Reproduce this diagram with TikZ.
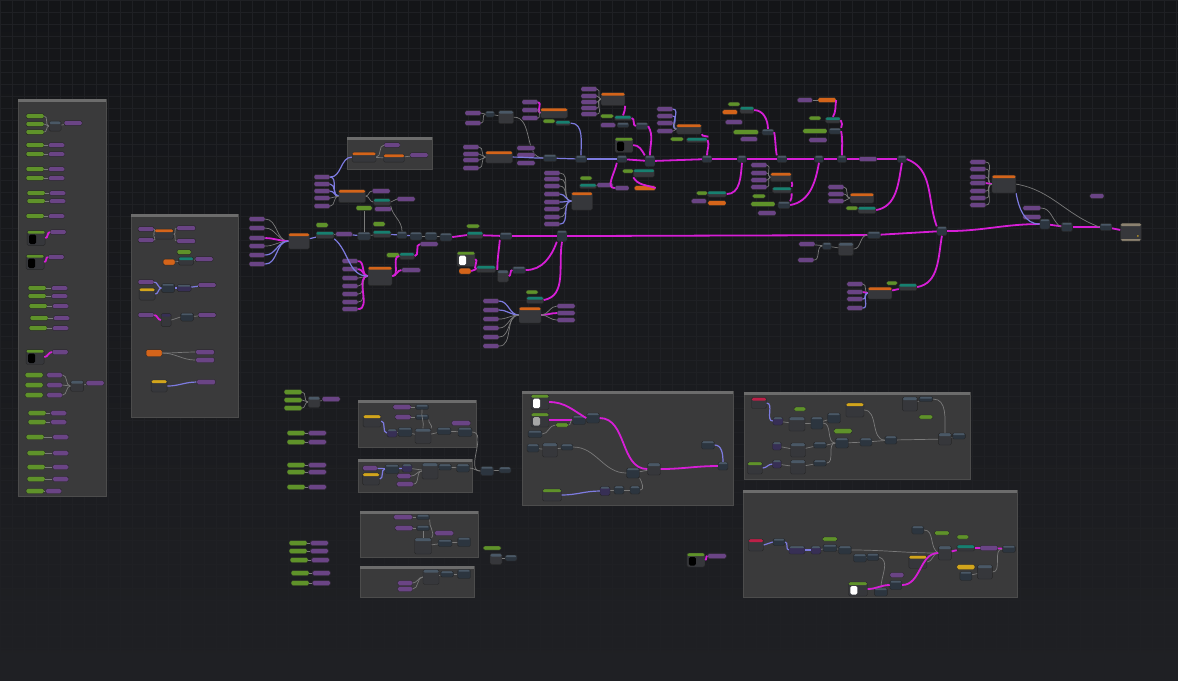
\documentclass[tikz,border=0pt]{standalone}
\usetikzlibrary{positioning}
\definecolor{GraphTop}{HTML}{141518}
\definecolor{GraphBg}{HTML}{1F2024}
\definecolor{GridLine}{HTML}{1F2024}
\definecolor{FrameGray}{HTML}{3A3A3B}
\definecolor{FrameBar}{HTML}{6C6C6C}
\definecolor{ParmPurple}{HTML}{6A4485}
\definecolor{ParmGreen}{HTML}{5F922A}
\definecolor{HdrOrange}{HTML}{D4641A}
\definecolor{HdrTeal}{HTML}{178070}
\definecolor{HdrYellow}{HTML}{D2A51C}
\definecolor{HdrRed}{HTML}{BC2048}
\definecolor{HdrSlate}{HTML}{4A5866}
\definecolor{OpSlate}{HTML}{2C353F}
\definecolor{OpViolet}{HTML}{372F55}
\definecolor{BodyGray}{HTML}{36373B}
\definecolor{OutHead}{HTML}{8C8270}
\definecolor{WireMag}{HTML}{D61ED6}
\definecolor{WireLav}{HTML}{7D7BE0}
\definecolor{WireGray}{HTML}{7A7A7A}
\tikzset{
  sz/.style 2 args={minimum width=#1pt,minimum height=#2pt},
  pp/.style={draw=black!85,fill=ParmPurple,rounded corners=1.5pt,inner sep=0pt,sz={16}{5}},
  gp/.style={pp,fill=ParmGreen,sz={18}{5}},
  op/.style={draw=black!85,fill=OpSlate,rounded corners=1.5pt,inner sep=0pt,sz={12}{8},path picture={\fill[HdrSlate] (path picture bounding box.north west) rectangle ([yshift=-2pt]path picture bounding box.north east);}},
  opv/.style={op,fill=OpViolet,sz={10}{8}},
  blk/.style={draw=black!85,fill=BodyGray,rounded corners=1.5pt,inner sep=0pt,sz={24}{13},path picture={\fill[#1] (path picture bounding box.north west) rectangle ([yshift=-3pt]path picture bounding box.north east);}},
  blk/.default=HdrOrange,
  dk/.style={blk=HdrSlate,sz={15}{14}},
  thumb/.style={draw=black!85,fill=BodyGray,rounded corners=1.5pt,inner sep=0pt,sz={18}{15},path picture={\fill[ParmGreen] (path picture bounding box.north west) rectangle ([yshift=-3pt]path picture bounding box.north east);\fill[#1] ([shift={(2pt,-4pt)}]path picture bounding box.north west) rectangle ([shift={(9pt,1.5pt)}]path picture bounding box.south west);}},
  thumb/.default=black,
  outn/.style={draw=black!85,fill=BodyGray,rounded corners=1.5pt,inner sep=0pt,sz={21}{18},path picture={\fill[OutHead] (path picture bounding box.north west) rectangle ([yshift=-3pt]path picture bounding box.north east);\fill[OutHead] (path picture bounding box.south west) rectangle ([yshift=2pt]path picture bounding box.south east);\fill[HdrYellow] ([shift={(-5pt,4pt)}]path picture bounding box.south east) -- ([shift={(-2pt,4pt)}]path picture bounding box.south east) -- ([shift={(-3.5pt,7pt)}]path picture bounding box.south east) -- cycle;}},
  wire/.style={WireGray,line width=0.7pt},
  mag/.style={WireMag,line width=1.8pt},
  lav/.style={WireLav,line width=1.2pt},
  cv/.style={out=0,in=180},
  grp/.style={fill=FrameGray,draw=black!70,line width=0.6pt}
}
\begin{document}
\begin{tikzpicture}[x=1pt,y=-1pt]
\shade[top color=GraphTop,bottom color=GraphBg] (0,0) rectangle (1178,681);
\draw[GridLine,line width=0.25pt,step=12pt] (0,681) grid (1178,0);
\useasboundingbox (0,0) rectangle (1178,681);
% group frames
\foreach \xa/\ya/\xb/\yb in {18/99/106/496,131/214/238/417,347/137/432/169,358/400/476/447,358/459/472/492,360/511/478/557,360/566/474/597,522/391/733/505,744/392/970/479,743/490/1017/597}{
  \filldraw[grp] (\xa,\ya) rectangle (\xb,\yb);
  \fill[FrameBar] (\xa,\ya) rectangle (\xb,\ya+3);
}

% left frame
\foreach \y [count=\i] in {116,124,132}{\node[gp] (lt\i) at (35,\y) {};}
\node[dk,sz={12}{10}] (ltmix) at (55,126) {};
\node[pp,sz={18}{5}] (ltout) at (73,123) {};
\foreach \i in {1,2,3}{\draw[wire] (lt\i.east) to[cv] (ltmix.west);}
\draw[wire] (ltmix) -- (ltout);
\foreach \y/\gx/\gap [count=\i] in {145/35/4pt,154/35/4pt,169/35/4pt,178/35/4pt,193/36/4pt,201/36/4pt,216/35/4pt,288/37/5pt,296/37/5pt,306/38/5pt,318/39/5pt,328/38/5pt,413/37/4pt,422/37/4pt,437/35/8pt,453/36/7pt,467/36/7pt,479/36/7pt,491/35/1pt}{
  \node[gp] (lg\i) at (\gx,\y) {};
  \node[pp,right=\gap of lg\i] (lp\i) {};
  \draw[wire] (lg\i) -- (lp\i);
}
\foreach \x/\y/\px/\py [count=\i] in {36/238/58/232,35/262/56/257,35/357/60/352}{
  \node[thumb] (lth\i) at (\x,\y) {};
  \node[pp] (lto\i) at (\px,\py) {};
  \draw[mag] (lth\i.east) to[cv] (lto\i.west);
}
\node[dk,sz={13}{11}] (lbmix) at (77,386) {};
\node[pp,sz={18}{5}] (lbout) at (95,383) {};
\foreach \y [count=\i] in {375,385,395}{
  \node[gp] (lb\i) at (34,\y) {};
  \node[pp,right=3pt of lb\i] (lbp\i) {};
  \draw[wire] (lbp\i.east) to[cv] (lbmix.west);
}
\draw[wire] (lbmix) -- (lbout);

% frame M
\node[pp] (m1a) at (146,229) {};
\node[pp] (m1b) at (146,240) {};
\node[blk,sz={19}{10}] (m1) at (164,234) {};
\node[pp,sz={19}{5}] (m1c) at (186,228) {};
\node[pp,sz={19}{5}] (m1d) at (186,241) {};
\draw[wire] (m1a.east) to[cv] (m1.west); \draw[wire] (m1b.east) to[cv] (m1.west);
\draw[wire] (m1.east) to[cv] (m1c.west); \draw[wire] (m1.east) to[cv] (m1d.west);
\node[gp,sz={14}{5}] (m2g) at (184,252) {};
\node[pp,fill=HdrOrange,sz={12}{6}] (m2o) at (169,262) {};
\node[blk=HdrTeal,sz={15}{8}] (m2) at (186,261) {};
\node[pp,sz={18}{5}] (m2p) at (204,259) {};
\draw[wire] (m2o) -- (m2); \draw[wire] (m2) -- (m2p);
\node[pp] (m3a) at (146,282) {};
\node[blk=HdrYellow,sz={16}{12}] (m3y) at (147,294) {};
\node[op,sz={13}{9}] (m3b) at (168,288) {};
\node[opv,sz={14}{7}] (m3c) at (184,288) {};
\node[pp,sz={18}{5}] (m3d) at (207,285) {};
\draw[lav] (m3a.east) to[cv] (m3b.west); \draw[lav] (m3y.east) to[cv] (m3b.west);
\draw[lav] (m3b) -- (m3c); \draw[lav] (m3c) -- (m3d);
\node[pp] (m4a) at (146,315) {};
\node[blk=OpViolet,sz={10}{13}] (m4b) at (166,320) {};
\node[op,sz={13}{8}] (m4c) at (187,317) {};
\node[pp,sz={18}{5}] (m4d) at (207,315) {};
\draw[mag] (m4a.east) to[cv] (m4b.west); \draw[wire] (m4b.east) to[cv] (m4c.west); \draw[wire] (m4c) -- (m4d);
\node[pp,fill=HdrOrange,sz={16}{7}] (m5o) at (154,353) {};
\node[pp,sz={19}{5}] (m5a) at (205,352) {};
\node[pp,sz={19}{5}] (m5b) at (205,360) {};
\draw[wire] (m5o.east) to[cv] (m5a.west); \draw[wire] (m5o.east) to[cv] (m5b.west);
\node[blk=HdrYellow,sz={16}{12}] (m6y) at (159,386) {};
\node[pp,sz={19}{5}] (m6a) at (206,382) {};
\draw[lav] (m6y.east) to[cv] (m6a.west);

% frame T and cluster under it
\node[blk,sz={24}{10}] (t1) at (364,157) {};
\node[pp] (t1a) at (392,145) {};
\node[blk,sz={21}{8}] (t2) at (394,158) {};
\node[pp,sz={18}{5}] (t2a) at (419,155) {};
\draw[wire] (t1.east) to[cv] (t1a.west); \draw[wire] (t1) -- (t2); \draw[wire] (t2) -- (t2a);
\foreach \y [count=\i] in {177,184,191,198,206}{\node[pp] (tc\i) at (322,\y) {};}
\node[blk,sz={27}{13}] (tcmix) at (352,196) {};
\foreach \i/\s in {1/lav,2/lav,3/lav,4/wire,5/wire}{\draw[\s] (tc\i.east) to[cv] (tcmix.west);}
\draw[lav] (tc1.east) to[cv] (t1.west);
\node[pp,sz={18}{5}] (tca) at (381,191) {};
\node[blk=HdrTeal,sz={17}{7}] (tcb) at (382,202) {};
\node[gp,sz={16}{5}] (tcg) at (364,208) {};
\node[pp,sz={17}{5}] (tcc) at (383,209) {};
\node[pp,sz={18}{5}] (tcd) at (406,199) {};
\draw[wire] (tcmix.east) to[cv] (tca.west); \draw[wire] (tcmix.east) to[cv] (tcb.west);
\draw[wire] (tcb.east) to[cv] (tcd.west);

% entry cluster
\foreach \y [count=\i] in {219,228,238,246,255,264}{\node[pp] (ein\i) at (257,\y) {};}
\node[blk,sz={21}{16}] (emix) at (299,241) {};
\foreach \i/\s in {1/wire,2/wire,3/mag,4/wire,5/lav,6/lav}{\draw[\s] (ein\i.east) to[cv] (emix.west);}
\node[gp,sz={12}{5}] (eg1) at (322,225) {};
\node[blk=HdrTeal,sz={18}{7}] (et1) at (325,235) {};
\node[pp,sz={17}{5}] (ep1) at (344,234) {};
\node[op,sz={13}{8}] (eo1) at (364,236) {};
\node[gp,sz={12}{5}] (eg2) at (379,224) {};
\node[blk=HdrTeal,sz={18}{7}] (et2) at (382,234) {};
\node[op,sz={10}{7}] (eo2) at (402,235) {};
\node[op] (eo3) at (416,236) {};
\node[op] (eo4) at (431,236) {};
\node[op] (eo5) at (446,237) {};
\draw[lav] (emix) -- (et1); \draw[wire] (et1) -- (ep1); \draw[lav] (ep1) -- (eo1);
\draw[wire] (eo1) -- (et2); \draw[lav] (et2) -- (eo2); \draw[lav] (eo2) -- (eo3);
\draw[wire] (eo3) -- (eo4); \draw[wire] (eo4) -- (eo5);
\draw[wire] (tcg.south) to[out=-90,in=90] (eo1.north);
\draw[wire] (tcb.south east) to[out=-80,in=90] (eo2.north);

% lower left cluster
\foreach \y [count=\i] in {261,269,278,286,294,302,309}{\node[pp] (lc\i) at (350,\y) {};}
\node[blk,sz={24}{19}] (lcmix) at (380,276) {};
\foreach \i/\s in {1/mag,2/mag,3/wire,4/wire,5/wire,6/wire,7/mag}{\draw[\s] (lc\i.east) to[cv] (lcmix.west);}
\node[gp,sz={13}{5}] (lcg) at (393,255) {};
\node[blk=HdrTeal,sz={15}{7}] (lct) at (407,256) {};
\node[pp,sz={19}{5}] (lca) at (411,270) {};
\node[pp,sz={18}{5}] (lcb) at (429,244) {};
\draw[mag] (lcmix.east) to[cv] (lca.west);
\draw[mag] (lcmix.east) to[cv] (lct.west);
\draw[mag] (lct.east) to[cv] (lcb.west);
\draw[lav] (et1.south east) to[out=-40,in=180] (lcmix.west);

% main spine
\node[gp,sz={13}{4}] (sg) at (473,226) {};
\node[blk=HdrTeal,sz={16}{7}] (st) at (475,235) {};
\node[op,sz={12}{7}] (so1) at (506,236) {};
\node[op,sz={10}{11}] (sj) at (562,236) {};
\node[op,sz={13}{7}] (sp1) at (874,235) {};
\node[op,sz={10}{9}] (jn) at (942,231) {};
\node[op,sz={10}{10}] (ra) at (1045,224) {};
\node[op,sz={11}{9}] (rb) at (1067,227) {};
\node[op,sz={12}{7}] (rc) at (1106,227) {};
\node[outn] (outn) at (1131,232) {};
\draw[mag] (eo5.east) -- (st.west); \draw[mag] (st) -- (so1); \draw[mag] (so1) -- (sj);
\draw[mag] (sj) -- (sp1); \draw[mag] (sp1) -- (jn);
\draw[mag] (jn.east) to[cv] (ra.west); \draw[mag] (ra) -- (rb); \draw[mag] (rb) -- (rc); \draw[mag] (rc) -- (outn);

% thumbnail branch
\node[thumb=white] (wth) at (466,259) {};
\node[pp,fill=HdrOrange,sz={12}{6}] (wor) at (465,271) {};
\node[blk=HdrTeal,sz={19}{7}] (wtl) at (486,269) {};
\node[dk,sz={11}{12}] (wo1) at (503,276) {};
\node[op,sz={13}{7}] (wo2) at (519,270) {};
\draw[mag] (wth.east) to[out=0,in=180] (wtl.west);
\draw[mag] (wor.east) to[cv] (wtl.west);
\draw[mag] (so1.south west) to[out=-95,in=90] (wo1.north west);
\draw[mag] (wo1.east) to[cv] (wo2.west);
\draw[mag] (wo2.east) to[out=0,in=-110] (sj.south west);

% cluster under junction
\foreach \y [count=\i] in {301,310,319,328,337,346}{\node[pp] (bq\i) at (491,\y) {};}
\node[blk,sz={22}{16}] (bqmix) at (530,315) {};
\node[gp,sz={12}{4}] (bqg) at (532,292) {};
\node[blk=HdrTeal,sz={17}{7}] (bqt) at (535,300) {};
\foreach \y [count=\i] in {306,313,320}{\node[pp,sz={18}{5}] (bqo\i) at (566,\y) {};}
\foreach \i/\s in {1/lav,2/lav,3/wire,4/wire,5/wire,6/wire}{\draw[\s] (bq\i.east) to[cv] (bqmix.west);}
\draw[mag] (bqmix.east) to[cv] (bqo2.west);
\draw[wire] (bqmix.east) to[cv] (bqo1.west); \draw[wire] (bqmix.east) to[cv] (bqo3.west);
\draw[mag] (bqt.east) to[out=10,in=-100] (sj.south);

% upper spine
\node[op,sz={13}{7}] (ua) at (550,158) {};
\node[op,sz={11}{7}] (ub) at (581,159) {};
\node[op,sz={10}{7}] (uc) at (622,159) {};
\node[op,sz={10}{11}] (ud) at (650,161) {};
\node[op,sz={10}{7}] (ue) at (707,159) {};
\node[op,sz={9}{7}] (uf) at (742,159) {};
\node[op,sz={10}{7}] (ug) at (782,159) {};
\node[op,sz={9}{7}] (uh) at (819,159) {};
\node[op,sz={9}{7}] (ui) at (842,159) {};
\node[pp,sz={18}{5}] (up) at (868,159) {};
\node[op,sz={9}{7}] (uj) at (902,159) {};
\draw[lav] (ua) -- (ub); \draw[lav] (ub) -- (uc);
\foreach \a/\b in {uc/ud,ud/ue,ue/uf,uf/ug,ug/uh,uh/ui,ui/up,up/uj}{\draw[mag] (\a) -- (\b);}
\draw[mag] (uj.east) to[out=-20,in=110] (jn.north west);

% clusters feeding the upper spine
\node[pp] (ul1) at (473,113) {};
\node[pp] (ul2) at (473,123) {};
\node[op,sz={9}{6}] (ulo) at (490,114) {};
\node[dk,sz={15}{13}] (uldk) at (506,117) {};
\draw[wire] (ul1.east) to[cv] (ulo.west); \draw[wire] (ul2.east) to[cv] (ulo.west);
\draw[wire] (ulo) -- (uldk); \draw[wire] (uldk.east) to[cv] (ua.west);
\foreach \y [count=\i] in {147,154,160,168}{\node[pp] (uq\i) at (471,\y) {};}
\node[blk,sz={27}{12}] (uqmix) at (499,157) {};
\foreach \y [count=\i] in {148,155,163}{\node[pp,sz={18}{5}] (uqo\i) at (526,\y) {};}
\foreach \i in {1,...,4}{\draw[wire] (uq\i.east) to[cv] (uqmix.west);}
\draw[lav] (uqmix.east) to[cv] (ua.west);
\foreach \y [count=\i] in {102,110,118}{\node[pp] (us\i) at (530,\y) {};}
\node[blk,sz={27}{10}] (usmix) at (554,113) {};
\node[gp,sz={12}{4}] (usg) at (549,121) {};
\node[blk=HdrTeal,sz={15}{5}] (ust) at (563,123) {};
\draw[mag] (us1.east) to[cv] (usmix.west); \draw[wire] (us2.east) to[cv] (usmix.west); \draw[wire] (us3.east) to[cv] (usmix.west);
\draw[lav] (ust.east) to[out=0,in=90] (ub.north);
\foreach \y [count=\i] in {89,96,102,108,114}{\node[pp] (uv\i) at (589,\y) {};}
\node[blk,sz={24}{13}] (uvmix) at (613,99) {};
\node[gp,sz={13}{4}] (uvg) at (607,116) {};
\node[blk=HdrTeal,sz={17}{5}] (uvt) at (623,118) {};
\node[pp,sz={15}{5}] (uvp) at (608,125) {};
\node[op,sz={12}{5}] (uvo1) at (623,125) {};
\node[op,sz={12}{7}] (uvo2) at (642,126) {};
\foreach \i in {1,...,5}{\draw[wire] (uv\i.east) to[cv] (uvmix.west);}
\draw[mag] (uvmix.south east) to[out=-100,in=60] (uvt.north);
\draw[mag] (uvt.east) to[cv] (uvo2.west);
\draw[mag] (uvo2.east) to[out=-60,in=90] (ud.north);
\node[thumb] (bth) at (624,145) {};
\draw[mag] (bth.east) to[out=0,in=120] (ud.north west);
\foreach \y [count=\i] in {109,116,123,131}{\node[pp] (uw\i) at (665,\y) {};}
\node[blk,sz={25}{10}] (uwmix) at (689,129) {};
\node[gp,sz={13}{4}] (uwg) at (677,139) {};
\node[blk=HdrTeal,sz={21}{5}] (uwt) at (697,140) {};
\foreach \i/\s in {1/lav,2/lav,3/wire,4/wire}{\draw[\s] (uw\i.east) to[cv] (uwmix.west);}
\draw[mag] (uwmix.south east) to[out=-90,in=45] (uwt.north east);
\draw[mag] (uwt.east) to[out=-70,in=90] (ue.north);
\foreach \y [count=\i] in {173,179,186,194,202,209,217,224}{\node[pp] (bc\i) at (552,\y) {};}
\node[blk,sz={21}{18}] (bcmix) at (582,201) {};
\node[gp,sz={12}{4}] (bcg) at (586,178) {};
\node[blk=HdrTeal,sz={17}{5}] (bct) at (588,186) {};
\node[pp] (bcp) at (605,185) {};
\foreach \i/\s in {1/wire,2/wire,3/wire,4/lav,5/lav,6/wire,7/wire,8/lav}{\draw[\s] (bc\i.east) to[cv] (bcmix.west);}
\draw[wire] (bct) -- (bcp);
\node[pp,sz={14}{5}] (bcq) at (622,188) {};
\node[gp,sz={11}{4}] (bcg2) at (628,171) {};
\node[blk=HdrTeal,sz={21}{8}] (bct2) at (644,173) {};
\node[pp,fill=HdrOrange,sz={21}{5}] (bco2) at (645,188) {};
\draw[mag] (uc.south west) to[out=-100,in=180] (bcq.west);
\draw[mag] (bct2.south west) to[out=-60,in=160] (bco2.east);
\node[pp,sz={15}{5}] (ka1) at (805,100) {};
\node[pp,fill=HdrOrange,sz={18}{5}] (ka2) at (827,100) {};
\node[gp,sz={12}{4}] (ka3) at (815,118) {};
\node[blk=HdrTeal,sz={15}{6}] (ka4) at (833,120) {};
\node[gp,sz={24}{5}] (ka5) at (815,131) {};
\node[op,sz={12}{6}] (ka6) at (835,131) {};
\node[pp,sz={18}{5}] (ka7) at (818,140) {};
\draw[wire] (ka1) -- (ka2);
\draw[mag] (ka2.east) to[out=-100,in=60] (ka4.north);
\draw[mag] (ka4.east) to[out=-60,in=60] (ka6.north east);
\draw[mag] (ka6.east) to[out=-80,in=90] (ui.north);
\node[gp,sz={12}{4}] (kb1) at (734,104) {};
\node[blk=HdrTeal,sz={14}{7}] (kb2) at (747,110) {};
\node[pp,fill=HdrOrange,sz={15}{5}] (kb3) at (730,112) {};
\node[pp,sz={17}{5}] (kb4) at (734,122) {};
\node[gp,sz={25}{5}] (kb5) at (746,132) {};
\node[op,sz={12}{6}] (kb6) at (768,132) {};
\node[pp,sz={17}{5}] (kb7) at (749,139) {};
\draw[mag] (kb2.east) to[out=0,in=90] (kb6.north);
\draw[mag] (kb6.east) to[out=-80,in=100] (ug.north west);
\foreach \y [count=\i] in {165,173,180,187}{\node[pp] (kc\i) at (759,\y) {};}
\node[blk,sz={21}{9}] (kcmix) at (781,177) {};
\node[blk=HdrTeal,sz={19}{6}] (kct) at (782,190) {};
\node[gp,sz={13}{4}] (kcg) at (759,196) {};
\node[gp,sz={24}{5}] (kcg2) at (763,204) {};
\node[op,sz={12}{7}] (kco) at (784,205) {};
\node[pp,sz={18}{5}] (kcp) at (767,213) {};
\foreach \i in {1,...,4}{\draw[wire] (kc\i.east) to[cv] (kcmix.west);}
\draw[mag] (kcmix.south east) to[out=-90,in=30] (kct.north east);
\draw[mag] (kct.south east) to[out=-100,in=45] (kco.north east);
\draw[mag] (kco.east) to[out=10,in=-100] (uh.south);
\node[gp,sz={11}{4}] (kd1) at (702,193) {};
\node[blk=HdrTeal,sz={19}{6}] (kd2) at (717,194) {};
\node[pp,sz={15}{5}] (kd3) at (699,201) {};
\node[pp,fill=HdrOrange,sz={18}{5}] (kd4) at (717,203) {};
\draw[mag] (kd2.east) to[out=0,in=-95] (uf.south);
\foreach \y [count=\i] in {187,194,201}{\node[pp] (ke\i) at (836,\y) {};}
\node[blk,sz={24}{10}] (kemix) at (862,198) {};
\node[gp,sz={12}{4}] (keg) at (852,208) {};
\node[blk=HdrTeal,sz={18}{7}] (ket) at (867,210) {};
\foreach \i in {1,2,3}{\draw[wire] (ke\i.east) to[cv] (kemix.west);}
\draw[mag] (ket.east) to[out=10,in=-100] (uj.south);

% lower right feeders
\node[pp] (kf1) at (807,244) {};
\node[op,sz={9}{7}] (kf2) at (827,246) {};
\node[dk,sz={15}{13}] (kf3) at (846,249) {};
\node[pp] (kf4) at (806,260) {};
\draw[wire] (kf1) -- (kf2); \draw[wire] (kf4.east) to[cv] (kf2.west); \draw[wire] (kf2) -- (kf3);
\draw[wire] (kf3.east) to[cv] (sp1.west);
\foreach \y [count=\i] in {284,292,299,308}{\node[pp] (kg\i) at (855,\y) {};}
\node[blk,sz={24}{12}] (kgmix) at (880,293) {};
\node[gp,sz={11}{4}] (kgg) at (892,283) {};
\node[blk=HdrTeal,sz={18}{7}] (kgt) at (908,287) {};
\foreach \i/\s in {1/wire,2/mag,3/lav,4/lav}{\draw[\s] (kg\i.east) to[cv] (kgmix.west);}
\draw[mag] (kgmix) -- (kgt);
\draw[mag] (kgt.east) to[out=10,in=-100] (jn.south);

% right cluster before output
\foreach \y [count=\i] in {162,169,177,183,191,198,205}{\node[pp] (rq\i) at (978,\y) {};}
\node[blk,sz={24}{18}] (rqmix) at (1004,184) {};
\foreach \i/\s in {1/wire,2/wire,3/wire,4/mag,5/wire,6/wire,7/wire}{\draw[\s] (rq\i.east) to[cv] (rqmix.west);}
\node[pp,sz={18}{5}] (rqa) at (1032,208) {};
\node[pp,sz={18}{5}] (rqb) at (1032,217) {};
\node[pp,sz={14}{5}] (rlone) at (1097,196) {};
\draw[lav] (rqmix.south east) to[out=-80,in=180] (ra.west);
\draw[wire] (rqmix.east) to[out=-10,in=160] (rc.west);
\draw[wire] (rqa.east) to[out=0,in=150] (rb.west);

% loose parameters, lower left
\foreach \y [count=\i] in {392,400,408}{\node[gp] (kh\i) at (293,\y) {};}
\node[dk,sz={12}{11}] (khmix) at (314,402) {};
\node[pp,sz={18}{5}] (khout) at (331,399) {};
\foreach \i in {1,2,3}{\draw[wire] (kh\i.east) to[cv] (khmix.west);}
\draw[wire] (khmix) -- (khout);
\foreach \x/\y [count=\i] in {296/433,296/442,296/465,296/472,296/487,298/543,298/551,299/560,300/573,300/583}{
  \node[gp] (hg\i) at (\x,\y) {};
  \node[pp,sz={18}{5},right=3pt of hg\i] (hp\i) {};
  \draw[wire] (hg\i) -- (hp\i);
}

% frame A
\node[pp,sz={18}{5}] (a1) at (402,407) {};
\node[op,sz={13}{5}] (a2) at (422,407) {};
\node[pp,sz={16}{5}] (a3) at (403,417) {};
\node[op,sz={13}{5}] (a4) at (422,417) {};
\node[blk=HdrYellow,sz={18}{12}] (a5) at (372,421) {};
\node[opv,sz={10}{8}] (a6) at (392,433) {};
\node[op,sz={14}{9}] (a7) at (405,432) {};
\node[dk,sz={16}{15}] (a8) at (423,436) {};
\node[op,sz={14}{7}] (a9) at (444,431) {};
\node[pp,sz={19}{5}] (a10) at (461,423) {};
\node[op,sz={14}{9}] (a11) at (465,432) {};
\draw[wire] (a1) -- (a2); \draw[wire] (a3) -- (a4);
\draw[lav] (a5.east) to[cv] (a6.west);
\draw[wire] (a6) -- (a7); \draw[wire] (a7) -- (a8);
\draw[wire] (a2.south) to[out=-100,in=80] (a8.north); \draw[wire] (a4.south east) to[out=-100,in=60] (a8.north east);
\draw[wire] (a8) -- (a9); \draw[wire] (a9) -- (a11);

% frame B
\node[pp,sz={15}{5}] (b1) at (370,468) {};
\node[blk=HdrYellow,sz={17}{12}] (b2) at (371,479) {};
\node[op,sz={14}{9}] (b3) at (392,469) {};
\node[opv,sz={10}{8}] (b4) at (407,468) {};
\node[pp,sz={14}{5}] (b5) at (404,476) {};
\node[pp,sz={17}{5}] (b6) at (405,484) {};
\node[dk,sz={16}{16}] (b7) at (430,471) {};
\node[op,sz={13}{6}] (b8) at (445,467) {};
\node[op,sz={13}{8}] (b9) at (463,468) {};
\draw[lav] (b1) -- (b3); \draw[lav] (b2.east) to[cv] (b3.west); \draw[lav] (b3) -- (b4);
\draw[wire] (b4) -- (b7); \draw[wire] (b5.east) to[cv] (b7.west); \draw[wire] (b6.east) to[cv] (b7.west);
\draw[wire] (b7) -- (b8); \draw[wire] (b8) -- (b9);
\node[op,sz={13}{9}] (x1) at (487,471) {};
\node[op,sz={12}{6}] (x2) at (505,470) {};
\draw[wire] (a11.east) to[cv] (x1.west); \draw[wire] (b9.east) to[cv] (x1.west); \draw[wire] (x1) -- (x2);

% frames C and D
\node[pp,sz={19}{5}] (c1) at (403,517) {};
\node[op,sz={13}{5}] (c2) at (423,517) {};
\node[pp,sz={18}{5}] (c3) at (404,528) {};
\node[op,sz={13}{5}] (c4) at (423,528) {};
\node[pp,sz={19}{5}] (c5) at (444,533) {};
\node[dk,sz={17}{16}] (c6) at (423,546) {};
\node[op,sz={14}{7}] (c7) at (445,543) {};
\node[op,sz={13}{9}] (c8) at (464,542) {};
\draw[wire] (c1) -- (c2); \draw[wire] (c3) -- (c4);
\draw[wire] (c2.south east) to[out=-100,in=60] (c6.north east); \draw[wire] (c4.south) -- (c6.north);
\draw[wire] (c6) -- (c7); \draw[wire] (c7) -- (c8);
\node[dk,sz={16}{15}] (d1) at (431,577) {};
\node[op,sz={13}{6}] (d2) at (447,574) {};
\node[op,sz={13}{9}] (d3) at (464,574) {};
\node[pp,sz={15}{5}] (d4) at (405,583) {};
\node[pp,sz={15}{5}] (d5) at (405,589) {};
\draw[wire] (d4.east) to[cv] (d1.west); \draw[wire] (d5.east) to[cv] (d1.west);
\draw[wire] (d1) -- (d2); \draw[wire] (d2) -- (d3);
\node[gp,sz={18}{4}] (y1) at (492,548) {};
\node[dk,sz={12}{11}] (y2) at (496,559) {};
\node[op,sz={12}{6}] (y3) at (511,558) {};
\draw[wire] (y2) -- (y3);
\node[thumb,sz={18}{14}] (y4) at (696,560) {};
\node[pp,sz={19}{5}] (y5) at (717,556) {};
\draw[mag] (y4.east) to[cv] (y5.west);

% frame E
\node[thumb=white] (e1) at (540,402) {};
\node[thumb=gray!70,sz={18}{14}] (e2) at (540,420) {};
\node[gp,sz={13}{4}] (e3) at (562,425) {};
\node[op,sz={14}{7}] (e4) at (535,434) {};
\node[op,sz={13}{9}] (e5) at (579,420) {};
\node[op,sz={13}{10}] (e6) at (593,418) {};
\node[op] (e7) at (533,448) {};
\node[dk] (e8) at (550,450) {};
\node[op,sz={12}{6}] (e9) at (567,447) {};
\node[op,sz={13}{10}] (e10) at (633,473) {};
\node[dk,sz={13}{12}] (e11) at (654,469) {};
\node[op,sz={13}{8}] (e12) at (708,445) {};
\node[op,sz={10}{8}] (e13) at (723,466) {};
\node[blk=ParmGreen,sz={19}{12}] (e14) at (552,495) {};
\node[opv,sz={10}{9}] (e15) at (605,491) {};
\node[op,sz={10}{8}] (e16) at (619,490) {};
\node[op,sz={10}{8}] (e17) at (635,490) {};
\draw[mag] (e1.east) to[out=0,in=150] (e6.west);
\draw[mag] (e2.east) to[cv] (e5.west);
\draw[wire] (e4.east) to[cv] (e3.west); \draw[wire] (e3.east) to[cv] (e5.west);
\draw[mag] (e6.east) to[cv] (e11.west);
\draw[mag] (e11.east) to[cv] (e13.west);
\draw[lav] (e12.east) to[out=0,in=90] (e13.north);
\draw[wire] (e7) -- (e8); \draw[wire] (e8) -- (e9);
\draw[wire] (e9.east) to[cv] (e10.west); \draw[wire] (e10) -- (e11);
\draw[lav] (e14.east) to[cv] (e15.west);
\draw[wire] (e15) -- (e16); \draw[wire] (e16) -- (e17);
\draw[wire] (e17.east) to[out=0,in=-60] (e10.south east);

% frame F
\node[blk=HdrRed,sz={15}{11}] (f1) at (759,403) {};
\node[opv,sz={10}{8}] (f2) at (778,421) {};
\node[gp,sz={12}{4}] (f3) at (800,409) {};
\node[dk,sz={16}{14}] (f4) at (797,424) {};
\node[op,sz={12}{12}] (f5) at (817,423) {};
\node[op,sz={13}{10}] (f6) at (834,418) {};
\node[blk=HdrYellow,sz={18}{14}] (f7) at (855,410) {};
\node[dk,sz={15}{14}] (f8) at (910,404) {};
\node[op,sz={14}{5}] (f9) at (926,399) {};
\node[gp,sz={14}{4}] (f10) at (926,417) {};
\node[gp,sz={18}{5}] (f11) at (843,431) {};
\node[op,sz={13}{10}] (f12) at (842,443) {};
\node[op] (f13) at (866,442) {};
\node[op] (f14) at (891,440) {};
\node[dk,sz={13}{12}] (f15) at (945,439) {};
\node[op,sz={13}{6}] (f16) at (959,436) {};
\node[opv,sz={9}{8}] (f17) at (777,446) {};
\node[dk] (f18) at (798,450) {};
\node[op,sz={13}{6}] (f19) at (820,445) {};
\node[blk=ParmGreen,sz={15}{12}] (f20) at (755,468) {};
\node[opv,sz={9}{8}] (f21) at (777,464) {};
\node[dk] (f22) at (798,467) {};
\node[op,sz={13}{6}] (f23) at (820,463) {};
\draw[lav] (f1.east) to[cv] (f2.west);
\draw[wire] (f2) -- (f4); \draw[wire] (f4) -- (f5); \draw[wire] (f5) -- (f6);
\draw[wire] (f5.east) to[cv] (f12.west);
\draw[wire] (f19.east) to[cv] (f12.west); \draw[wire] (f23.east) to[cv] (f12.west);
\draw[wire] (f12) -- (f13); \draw[wire] (f13) -- (f14); \draw[wire] (f14) -- (f15);
\draw[wire] (f7.east) to[out=0,in=180] (f14.west);
\draw[wire] (f8) -- (f9); \draw[wire] (f9.east) to[out=0,in=90] (f15.north);
\draw[wire] (f15) -- (f16);
\draw[wire] (f17) -- (f18); \draw[wire] (f18) -- (f19);
\draw[lav] (f20.east) to[cv] (f21.west);
\draw[wire] (f21) -- (f22); \draw[wire] (f22) -- (f23);

% frame G
\node[blk=HdrRed,sz={15}{12}] (g1) at (756,545) {};
\node[op,sz={12}{7}] (g2) at (779,542) {};
\node[opv,sz={16}{8}] (g3) at (797,550) {};
\node[opv,sz={10}{8}] (g4) at (816,550) {};
\node[gp,sz={15}{4}] (g5) at (830,539) {};
\node[op,sz={14}{7}] (g6) at (830,548) {};
\node[op,sz={13}{8}] (g7) at (845,550) {};
\node[op,sz={13}{8}] (g8) at (860,558) {};
\node[op,sz={12}{7}] (g9) at (873,557) {};
\node[op,sz={12}{8}] (g10) at (918,530) {};
\node[gp,sz={15}{4}] (g11) at (942,533) {};
\node[gp,sz={12}{4}] (g12) at (963,537) {};
\node[dk,sz={13}{14}] (g13) at (945,553) {};
\node[blk=HdrTeal,sz={18}{6}] (g14) at (966,548) {};
\node[pp,sz={18}{5}] (g15) at (989,548) {};
\node[op,sz={13}{7}] (g16) at (1009,549) {};
\node[blk=HdrYellow,sz={18}{13}] (g17) at (918,562) {};
\node[pp,fill=HdrYellow,sz={18}{5}] (g18) at (966,567) {};
\node[dk,sz={15}{14}] (g19) at (985,572) {};
\node[op,sz={12}{9}] (g20) at (966,576) {};
\node[pp,sz={14}{5}] (g21) at (897,575) {};
\node[op,sz={12}{9}] (g22) at (896,585) {};
\node[thumb=white,sz={19}{14}] (g23) at (858,589) {};
\node[op,sz={13}{8}] (g24) at (881,592) {};
\draw[lav] (g1.east) to[cv] (g2.west); \draw[lav] (g2.east) to[cv] (g3.west); \draw[lav] (g3) -- (g4);
\draw[wire] (g4) -- (g6); \draw[wire] (g6) -- (g7);
\draw[wire] (g7.east) to[cv] (g13.west);
\draw[wire] (g8) -- (g9);
\draw[wire] (g9.east) to[out=-20,in=90] (g24.north);
\draw[wire] (g10.east) to[out=0,in=150] (g13.west);
\draw[wire] (g17.east) to[cv] (g13.west);
\draw[mag] (g23.east) to[cv] (g22.west);
\draw[mag] (g22.east) to[cv] (g13.west);
\draw[mag] (g13) -- (g14); \draw[mag] (g14) -- (g15); \draw[mag] (g15) -- (g16);
\draw[wire] (g20) -- (g19); \draw[wire] (g19.east) to[cv] (g16.west);
\end{tikzpicture}
\end{document}
